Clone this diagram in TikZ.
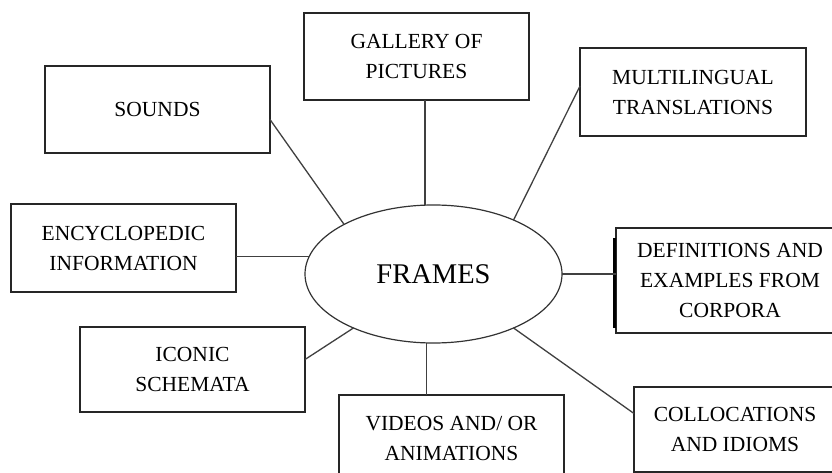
\documentclass[tikz,border=0pt]{standalone}
\usepackage{fontspec}
\setmainfont{Liberation Serif}
\usetikzlibrary{shapes.geometric}
\begin{document}
\begin{tikzpicture}[x=1pt,y=-1pt,
  box/.style={draw=black!85, line width=1.3pt, fill=white, inner sep=0pt, outer sep=0pt,
    align=center, font=\fontsize{21.5}{30}\selectfont},
  conn/.style={draw=black!75, line width=1.3pt},
  hub/.style={ellipse, draw=black!80, line width=1.2pt, inner sep=0pt, outer sep=0pt,
    minimum width=257, minimum height=138, font=\fontsize{28.5}{32}\selectfont}]
\useasboundingbox (0,0) rectangle (832,473);
\fill[white] (0,0) rectangle (832,473);
\clip (0,0) rectangle (832,473);

\node[hub] (frames) at (433.5,274) {FRAMES};

\node[box, minimum width=225, minimum height=87] (gallery) at (416.5,56.5) {GALLERY OF\\PICTURES};
\node[box, minimum width=225, minimum height=87] (sounds) at (157.5,109.5) {SOUNDS};
\node[box, minimum width=226, minimum height=88] (multi) at (693,92) {MULTILINGUAL\\TRANSLATIONS};
\node[box, minimum width=225, minimum height=88] (encyc) at (123.5,248) {ENCYCLOPEDIC\\INFORMATION};
\node[box, minimum width=228, minimum height=105] (def) at (730,280.5) {DEFINITIONS AND\\EXAMPLES FROM\\CORPORA};
\node[box, minimum width=225, minimum height=85] (iconic) at (192.5,369.5) {ICONIC\\SCHEMATA};
\node[box, minimum width=225, minimum height=87] (videos) at (451.5,438.5) {VIDEOS AND/ OR\\ANIMATIONS};
\node[box, minimum width=202, minimum height=85] (colloc) at (735,429.5) {COLLOCATIONS\\AND IDIOMS};

\draw[line width=2.2pt, black] ([xshift=-1.5pt,yshift=-10pt]def.north west) -- ([xshift=-1.5pt,yshift=5pt]def.south west);

\draw[conn] ([yshift=-10pt]sounds.east) -- (frames.151);
\draw[conn] (frames.97) -- (frames.97 |- gallery.south);
\draw[conn] ([yshift=6pt]multi.west) -- (frames.34);
\draw[conn] (frames.172) -- (frames.172 -| encyc.east);
\draw[conn] (frames.east) -- (frames.east -| def.west);
\draw[conn] ([yshift=10pt]iconic.east) -- (frames.214);
\draw[conn] (frames.264) -- (frames.264 |- videos.north);
\draw[conn] ([yshift=16pt]colloc.west) -- (frames.326);
\end{tikzpicture}
\end{document}
